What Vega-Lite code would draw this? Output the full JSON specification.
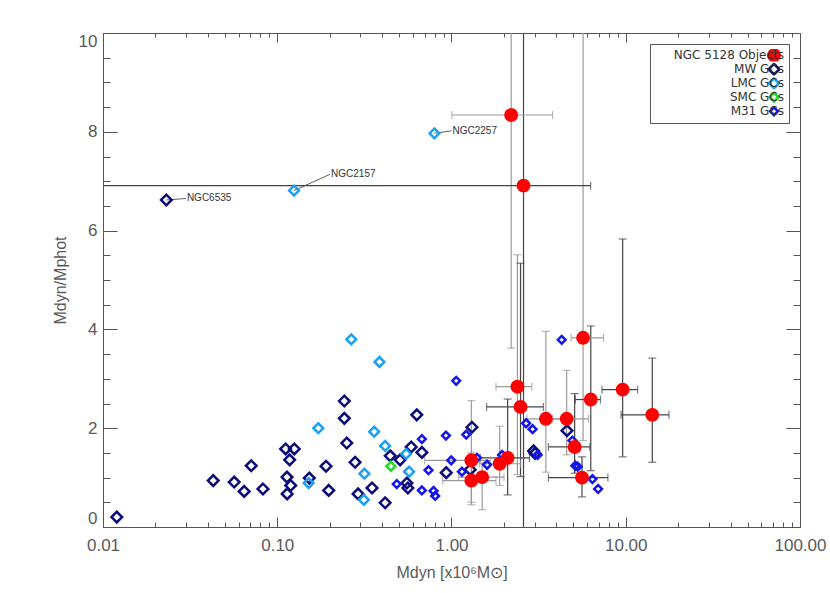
{
  "$schema": "https://vega.github.io/schema/vega-lite/v6.json",
  "width": 697,
  "height": 494,
  "autosize": {"type": "none"},
  "padding": {"left": 103, "top": 33, "right": 30, "bottom": 66},
  "background": "white",
  "config": {
    "view": {"stroke": "#555555", "strokeWidth": 1},
    "axis": {"labelFont": "Liberation Sans", "labelFontSize": 17, "labelColor": "#5a5a5a", "titleFont": "Liberation Sans", "titleFontSize": 16, "titleFontWeight": "normal", "titleColor": "#5a5a5a", "tickColor": "#555555", "domain": false, "grid": false},
    "legend": {"labelFont": "DejaVu Sans", "labelFontSize": 12, "labelColor": "#333333", "fillColor": "white", "strokeColor": "#555555", "padding": 5, "rowPadding": 1, "clipHeight": 12.5, "symbolStrokeWidth": 2.5, "orient": "top-right", "offset": 11, "labelAlign": "right", "labelOffset": 3, "symbolOffset": 112, "labelExpr": "datum.label + '\u00a0\u00a0\u00a0\u00a0\u00a0'"}
  },
  "datasets": {
    "pts": [
      {"group": "MW GCs", "x": 0.0120, "y": 0.20},
      {"group": "MW GCs", "x": 0.0429, "y": 0.94},
      {"group": "MW GCs", "x": 0.0566, "y": 0.91},
      {"group": "MW GCs", "x": 0.0646, "y": 0.72},
      {"group": "MW GCs", "x": 0.0709, "y": 1.24},
      {"group": "MW GCs", "x": 0.0828, "y": 0.77},
      {"group": "MW GCs", "x": 0.1117, "y": 1.58},
      {"group": "MW GCs", "x": 0.1253, "y": 1.58},
      {"group": "MW GCs", "x": 0.1178, "y": 1.36},
      {"group": "MW GCs", "x": 0.1137, "y": 1.01},
      {"group": "MW GCs", "x": 0.1195, "y": 0.84},
      {"group": "MW GCs", "x": 0.1140, "y": 0.67},
      {"group": "MW GCs", "x": 0.1527, "y": 0.99},
      {"group": "MW GCs", "x": 0.1905, "y": 1.23},
      {"group": "MW GCs", "x": 0.1974, "y": 0.74},
      {"group": "MW GCs", "x": 0.2426, "y": 2.55},
      {"group": "MW GCs", "x": 0.2426, "y": 2.20},
      {"group": "MW GCs", "x": 0.2506, "y": 1.70},
      {"group": "MW GCs", "x": 0.2797, "y": 1.31},
      {"group": "MW GCs", "x": 0.291, "y": 0.67},
      {"group": "MW GCs", "x": 0.350, "y": 0.79},
      {"group": "MW GCs", "x": 0.632, "y": 2.27},
      {"group": "MW GCs", "x": 0.587, "y": 1.62},
      {"group": "MW GCs", "x": 0.445, "y": 1.44},
      {"group": "MW GCs", "x": 0.507, "y": 1.36},
      {"group": "MW GCs", "x": 0.676, "y": 1.51},
      {"group": "MW GCs", "x": 1.31, "y": 2.02},
      {"group": "MW GCs", "x": 0.933, "y": 1.10},
      {"group": "MW GCs", "x": 1.28, "y": 1.16},
      {"group": "MW GCs", "x": 0.555, "y": 0.89},
      {"group": "MW GCs", "x": 0.562, "y": 0.79},
      {"group": "MW GCs", "x": 0.416, "y": 0.49},
      {"group": "MW GCs", "x": 2.96, "y": 1.54},
      {"group": "MW GCs", "x": 3.02, "y": 1.49},
      {"group": "MW GCs", "x": 4.60, "y": 1.95},
      {"group": "MW GCs", "x": 0.0231, "y": 6.62},
      {"group": "LMC GCs", "x": 0.1514, "y": 0.89},
      {"group": "LMC GCs", "x": 0.172, "y": 2.00},
      {"group": "LMC GCs", "x": 0.266, "y": 3.80},
      {"group": "LMC GCs", "x": 0.3163, "y": 1.08},
      {"group": "LMC GCs", "x": 0.314, "y": 0.55},
      {"group": "LMC GCs", "x": 0.360, "y": 1.93},
      {"group": "LMC GCs", "x": 0.386, "y": 3.34},
      {"group": "LMC GCs", "x": 0.416, "y": 1.64},
      {"group": "LMC GCs", "x": 0.549, "y": 1.48},
      {"group": "LMC GCs", "x": 0.571, "y": 1.12},
      {"group": "LMC GCs", "x": 0.1248, "y": 6.81},
      {"group": "LMC GCs", "x": 0.798, "y": 7.97},
      {"group": "SMC GCs", "x": 0.449, "y": 1.23},
      {"group": "M31 GCs", "x": 1.064, "y": 2.96},
      {"group": "M31 GCs", "x": 0.676, "y": 1.78},
      {"group": "M31 GCs", "x": 0.738, "y": 1.15},
      {"group": "M31 GCs", "x": 0.929, "y": 1.85},
      {"group": "M31 GCs", "x": 1.215, "y": 1.87},
      {"group": "M31 GCs", "x": 0.996, "y": 1.35},
      {"group": "M31 GCs", "x": 1.148, "y": 1.12},
      {"group": "M31 GCs", "x": 1.60, "y": 1.26},
      {"group": "M31 GCs", "x": 1.40, "y": 1.40},
      {"group": "M31 GCs", "x": 1.95, "y": 1.46},
      {"group": "M31 GCs", "x": 0.485, "y": 0.87},
      {"group": "M31 GCs", "x": 0.676, "y": 0.74},
      {"group": "M31 GCs", "x": 0.789, "y": 0.73},
      {"group": "M31 GCs", "x": 0.806, "y": 0.63},
      {"group": "M31 GCs", "x": 2.68, "y": 2.10},
      {"group": "M31 GCs", "x": 2.92, "y": 1.98},
      {"group": "M31 GCs", "x": 4.29, "y": 3.79},
      {"group": "M31 GCs", "x": 4.94, "y": 1.75},
      {"group": "M31 GCs", "x": 3.12, "y": 1.46},
      {"group": "M31 GCs", "x": 5.14, "y": 1.24},
      {"group": "M31 GCs", "x": 5.30, "y": 1.22},
      {"group": "M31 GCs", "x": 6.44, "y": 0.97},
      {"group": "M31 GCs", "x": 6.94, "y": 0.77},
      {"group": "NGC 5128 Objects", "x": 5.69, "y": 3.83, "xlo": 4.86, "xhi": 7.45, "ylo": 1.75, "yhi": 12, "src": "g"},
      {"group": "NGC 5128 Objects", "x": 2.39, "y": 2.84, "xlo": 1.80, "xhi": 2.89, "ylo": 1.06, "yhi": 5.51, "src": "g"},
      {"group": "NGC 5128 Objects", "x": 2.49, "y": 2.43, "xlo": 1.59, "xhi": 3.37, "ylo": 1.02, "yhi": 5.34, "src": "d"},
      {"group": "NGC 5128 Objects", "x": 3.48, "y": 2.19, "xlo": 2.71, "xhi": 4.4, "ylo": 1.11, "yhi": 3.96, "src": "g"},
      {"group": "NGC 5128 Objects", "x": 4.58, "y": 2.19, "xlo": 3.8, "xhi": 6.12, "ylo": 1.46, "yhi": 3.17, "src": "g"},
      {"group": "NGC 5128 Objects", "x": 6.30, "y": 2.58, "xlo": 5.14, "xhi": 7.16, "ylo": 1.14, "yhi": 4.07, "src": "d"},
      {"group": "NGC 5128 Objects", "x": 9.6, "y": 2.78, "xlo": 7.3, "xhi": 11.7, "ylo": 1.42, "yhi": 5.83, "src": "d"},
      {"group": "NGC 5128 Objects", "x": 14.2, "y": 2.27, "xlo": 9.4, "xhi": 17.7, "ylo": 1.31, "yhi": 3.42, "src": "d"},
      {"group": "NGC 5128 Objects", "x": 5.09, "y": 1.62, "xlo": 3.6, "xhi": 6.22, "ylo": 1.09, "yhi": 2.70, "src": "d"},
      {"group": "NGC 5128 Objects", "x": 5.61, "y": 1.00, "xlo": 3.6, "xhi": 7.9, "ylo": 0.61, "yhi": 1.42, "src": "d"},
      {"group": "NGC 5128 Objects", "x": 1.30, "y": 1.35, "xlo": 0.70, "xhi": 1.67, "ylo": 0.50, "yhi": 2.56, "src": "g"},
      {"group": "NGC 5128 Objects", "x": 1.30, "y": 0.94, "xlo": 0.89, "xhi": 1.8, "ylo": 0.45, "yhi": 1.5, "src": "g"},
      {"group": "NGC 5128 Objects", "x": 1.50, "y": 1.01, "xlo": 1.1, "xhi": 2.0, "ylo": 0.35, "yhi": 1.3, "src": "g"},
      {"group": "NGC 5128 Objects", "x": 1.89, "y": 1.28, "xlo": 1.45, "xhi": 2.49, "ylo": 0.84, "yhi": 2.04, "src": "g"},
      {"group": "NGC 5128 Objects", "x": 2.10, "y": 1.40, "xlo": 1.46, "xhi": 2.8, "ylo": 0.65, "yhi": 2.59, "src": "d"},
      {"group": "NGC 5128 Objects", "x": 2.20, "y": 8.34, "xlo": 1.005, "xhi": 3.80, "ylo": 3.62, "yhi": 12, "src": "g"},
      {"group": "NGC 5128 Objects", "x": 2.59, "y": 6.91, "xlo": 0.005, "xhi": 6.29, "ylo": -1, "yhi": 12, "src": "d"}
    ],
    "ann": [
      {"label": "NGC6535", "x": 0.0231, "y": 6.62, "lx": 0.0299, "ly": 6.65},
      {"label": "NGC2157", "x": 0.1248, "y": 6.81, "lx": 0.201, "ly": 7.14},
      {"label": "NGC2257", "x": 0.798, "y": 7.97, "lx": 1.0, "ly": 8.02}
    ]
  },
  "resolve": {"axis": {"x": "independent", "y": "independent"}},
  "layer": [
    {
      "mark": {"type": "rule", "color": "#7a7a7a", "strokeWidth": 1, "strokeDash": [10, 6]},
      "encoding": {"y": {"datum": 1, "type": "quantitative", "scale": {"domain": [0, 10], "nice": false, "zero": false}, "axis": null}}
    },
    {
      "data": {"name": "ann"},
      "mark": {"type": "rule", "color": "#333333", "strokeWidth": 0.8},
      "encoding": {
        "x": {"field": "x", "type": "quantitative", "scale": {"type": "log", "domain": [0.01, 100], "nice": false}, "axis": null},
        "y": {"field": "y", "type": "quantitative", "axis": null},
        "x2": {"field": "lx"},
        "y2": {"field": "ly"}
      }
    },
    {
      "data": {"name": "ann"},
      "mark": {"type": "text", "align": "left", "baseline": "middle", "dx": 1, "font": "Liberation Sans", "fontSize": 10, "color": "#333333"},
      "encoding": {
        "x": {"field": "lx", "type": "quantitative", "axis": null},
        "y": {"field": "ly", "type": "quantitative", "axis": null},
        "text": {"field": "label"}
      }
    },
    {
      "data": {"name": "pts"},
      "transform": [{"filter": "datum.group == 'NGC 5128 Objects'"}],
      "mark": {"type": "rule", "strokeWidth": 1.2, "clip": true},
      "encoding": {
        "x": {"field": "x", "type": "quantitative", "axis": {"orient": "bottom", "values": [0.02,0.03,0.04,0.05,0.06,0.07,0.08,0.09,0.2,0.3,0.4,0.5,0.6,0.7,0.8,0.9,2,3,4,5,6,7,8,9,20,30,40,50,60,70,80,90], "labels": false, "tickSize": -5, "title": null}},
        "y": {"field": "ylo", "type": "quantitative", "axis": {"orient": "left", "values": [0.5,1,1.5,2.5,3,3.5,4.5,5,5.5,6.5,7,7.5,8.5,9,9.5], "labels": false, "tickSize": -7, "title": null}},
        "y2": {"field": "yhi"},
        "color": {"field": "src", "type": "nominal", "scale": {"domain": ["g", "d"], "range": ["#9a9a9a", "#444444"]}, "legend": null}
      }
    },
    {
      "data": {"name": "pts"},
      "transform": [{"filter": "datum.group == 'NGC 5128 Objects'"}],
      "mark": {"type": "rule", "strokeWidth": 1.2, "clip": true},
      "encoding": {
        "x": {"field": "xlo", "type": "quantitative", "axis": {"orient": "top", "values": [0.01, 0.1, 1, 10, 100], "labels": false, "tickSize": -9, "title": null}},
        "x2": {"field": "xhi"},
        "y": {"field": "y", "type": "quantitative", "axis": {"orient": "right", "values": [0, 2, 4, 6, 8, 10], "labels": false, "tickSize": -14, "title": null}},
        "color": {"field": "src", "type": "nominal", "legend": null}
      }
    },
    {
      "data": {"name": "pts"},
      "transform": [{"filter": "datum.group == 'NGC 5128 Objects'"}],
      "mark": {"type": "tick", "orient": "horizontal", "size": 8, "thickness": 1.2, "clip": true},
      "encoding": {
        "x": {"field": "x", "type": "quantitative", "axis": {"orient": "top", "values": [0.02,0.03,0.04,0.05,0.06,0.07,0.08,0.09,0.2,0.3,0.4,0.5,0.6,0.7,0.8,0.9,2,3,4,5,6,7,8,9,20,30,40,50,60,70,80,90], "labels": false, "tickSize": -4, "title": null}},
        "y": {"field": "ylo", "type": "quantitative", "axis": {"orient": "right", "values": [0.5,1,1.5,2.5,3,3.5,4.5,5,5.5,6.5,7,7.5,8.5,9,9.5], "labels": false, "tickSize": -7, "title": null}},
        "color": {"field": "src", "type": "nominal", "legend": null}
      }
    },
    {
      "data": {"name": "pts"},
      "transform": [{"filter": "datum.group == 'NGC 5128 Objects'"}],
      "mark": {"type": "tick", "orient": "horizontal", "size": 8, "thickness": 1.2, "clip": true},
      "encoding": {
        "x": {"field": "x", "type": "quantitative", "axis": null},
        "y": {"field": "yhi", "type": "quantitative", "axis": null},
        "color": {"field": "src", "type": "nominal", "legend": null}
      }
    },
    {
      "data": {"name": "pts"},
      "transform": [{"filter": "datum.group == 'NGC 5128 Objects'"}],
      "mark": {"type": "tick", "orient": "vertical", "size": 8, "thickness": 1.2, "clip": true},
      "encoding": {
        "x": {"field": "xlo", "type": "quantitative", "axis": null},
        "y": {"field": "y", "type": "quantitative", "axis": null},
        "color": {"field": "src", "type": "nominal", "legend": null}
      }
    },
    {
      "data": {"name": "pts"},
      "transform": [{"filter": "datum.group == 'NGC 5128 Objects'"}],
      "mark": {"type": "tick", "orient": "vertical", "size": 8, "thickness": 1.2, "clip": true},
      "encoding": {
        "x": {"field": "xhi", "type": "quantitative", "axis": null},
        "y": {"field": "y", "type": "quantitative", "axis": null},
        "color": {"field": "src", "type": "nominal", "legend": null}
      }
    },
    {
      "data": {"name": "pts"},
      "mark": {"type": "point", "strokeWidth": 2.5, "opacity": 1},
      "encoding": {
        "x": {"field": "x", "type": "quantitative", "axis": {"orient": "bottom", "values": [0.01, 0.1, 1, 10, 100], "format": ".2f", "tickSize": -10, "labelPadding": 20, "labelFlush": false, "labelOverlap": false, "title": "Mdyn [x10⁶M⊙]", "titlePadding": 11}},
        "y": {"field": "y", "type": "quantitative", "axis": {"orient": "left", "values": [0, 2, 4, 6, 8, 10], "tickSize": -14, "labelPadding": 20, "labelFlush": true, "title": "Mdyn/Mphot", "titlePadding": 10}},
        "shape": {"field": "group", "type": "nominal", "scale": {"domain": ["NGC 5128 Objects", "MW GCs", "LMC GCs", "SMC GCs", "M31 GCs"], "range": ["circle", "diamond", "diamond", "diamond", "diamond"]}, "legend": {"title": null}},
        "fill": {"field": "group", "type": "nominal", "scale": {"domain": ["NGC 5128 Objects", "MW GCs", "LMC GCs", "SMC GCs", "M31 GCs"], "range": ["#ff0000", "transparent", "transparent", "transparent", "transparent"]}, "legend": {"title": null}},
        "stroke": {"field": "group", "type": "nominal", "scale": {"domain": ["NGC 5128 Objects", "MW GCs", "LMC GCs", "SMC GCs", "M31 GCs"], "range": ["#ff0000", "#0a0a7a", "#1aa0f5", "#22dd22", "#1414ee"]}, "legend": {"title": null}},
        "size": {"field": "group", "type": "nominal", "scale": {"domain": ["NGC 5128 Objects", "MW GCs", "LMC GCs", "SMC GCs", "M31 GCs"], "range": [130, 60, 60, 60, 60]}, "legend": {"title": null}}
      }
    }
  ]
}
